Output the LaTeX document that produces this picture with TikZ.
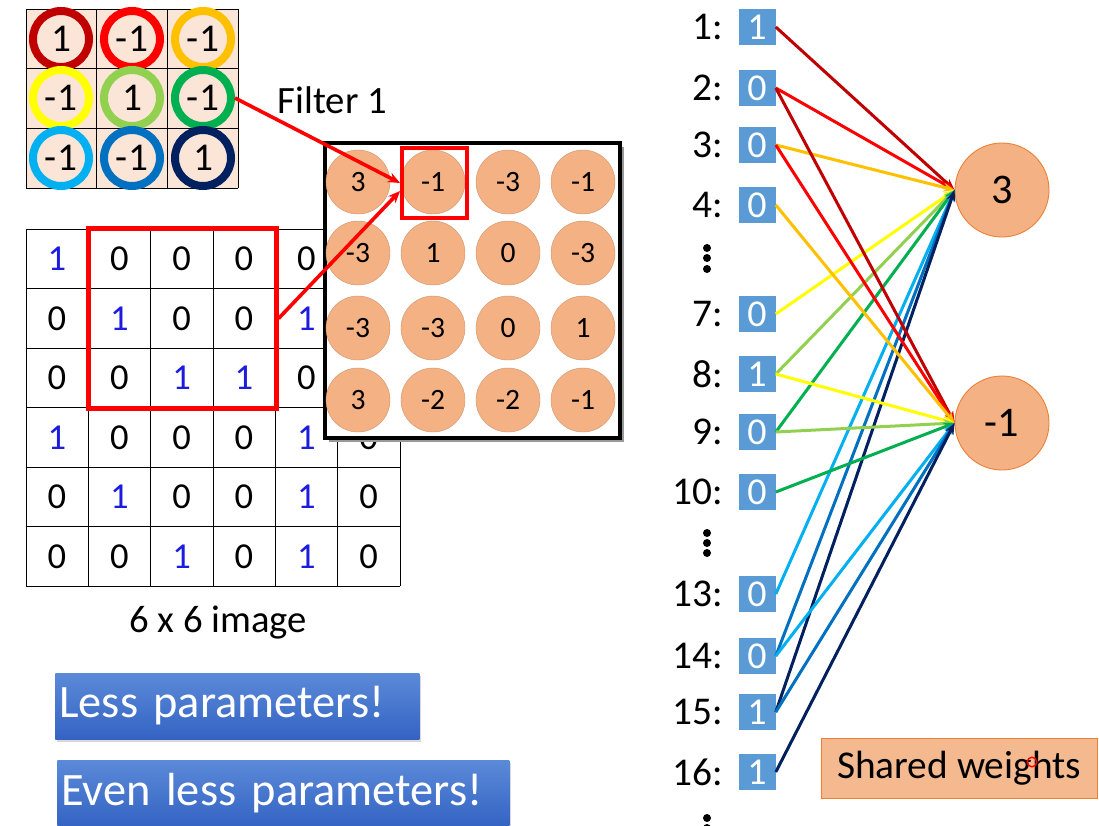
\documentclass[tikz,border=0pt]{standalone}
\usepackage{fontspec}
\setmainfont{Carlito}
\usetikzlibrary{positioning, arrows.meta, shadows}

\definecolor{wDarkRed}{HTML}{C00000}
\definecolor{wRed}{HTML}{FF0000}
\definecolor{wGold}{HTML}{FFC000}
\definecolor{wYellow}{HTML}{FFFF00}
\definecolor{wLightGreen}{HTML}{92D050}
\definecolor{wGreen}{HTML}{00B050}
\definecolor{wLightBlue}{HTML}{00B0F0}
\definecolor{wBlue}{HTML}{0070C0}
\definecolor{wNavy}{HTML}{002060}
\definecolor{peach}{HTML}{FBE5D6}
\definecolor{salmon}{HTML}{F4B183}
\definecolor{salmonLine}{HTML}{ED7D31}
\definecolor{inBlue}{HTML}{5B9BD5}
\definecolor{btnTop}{HTML}{5B8AD8}
\definecolor{btnBot}{HTML}{3463C4}
\definecolor{digBlue}{HTML}{1C1CE0}

\newcommand{\pxfont}[1]{\fontsize{#1}{#1}\selectfont}
\newcommand{\one}{\textcolor{digBlue}{1}}

\begin{document}
\begin{tikzpicture}[
      x=0.025cm, y=-0.025cm,
      ring/.style={circle, line width=0.2cm, fill=peach, minimum size=1.4cm,
      inner sep=0pt, font=\pxfont{28}},
      feat/.style={circle, fill=salmon, draw=salmon!85!black, line width=0.3pt,
      minimum size=1.6cm, inner sep=0pt, font=\pxfont{21}},
      pix/.style={font=\pxfont{26}},
      inp/.style={rectangle, fill=inBlue, text=white, minimum width=0.925cm,
      minimum height=0.9cm, inner sep=0pt, font=\pxfont{27}},
      lab/.style={font=\pxfont{28}, inner sep=1pt},
      outn/.style={circle, fill=salmon, draw=salmonLine, line width=0.6pt,
      minimum size=2.35cm, font=\pxfont{30}},
      edge/.style={line width=0.075cm, -{Stealth[length=0.28cm, width=0.22cm]}},
      btn/.style={rectangle, top color=btnTop, bottom color=btnBot, text=white,
      font=\pxfont{33}, align=left, inner xsep=0.1cm, minimum height=1.65cm,
      drop shadow={opacity=0.3, shadow xshift=0.04cm, shadow yshift=-0.08cm}}
    ]
    \useasboundingbox (0,0) rectangle (1099,825);
    \fill[white] (0,0) rectangle (1099,825);

    % Filter 1
    \fill[peach] (26,9) rectangle (238,188);
    \foreach \i in {0,...,3} {
      \draw[line width=0.6pt] (26+70.67*\i,9) -- (26+70.67*\i,188);
      \draw[line width=0.6pt] (26,9+59.67*\i) -- (238,9+59.67*\i);
    }
    \node[ring, draw=wDarkRed]    (f11) at (61,39)   {1};
    \node[ring, draw=wRed]        (f12) at (132,39)  {-1};
    \node[ring, draw=wGold]       (f13) at (203,39)  {-1};
    \node[ring, draw=wYellow]     (f21) at (61,98)   {-1};
    \node[ring, draw=wLightGreen] (f22) at (132,98)  {1};
    \node[ring, draw=wGreen]      (f23) at (203,98)  {-1};
    \node[ring, draw=wLightBlue]  (f31) at (61,158)  {-1};
    \node[ring, draw=wBlue]       (f32) at (132,158) {-1};
    \node[ring, draw=wNavy]       (f33) at (203,158) {1};
    \node[font=\pxfont{27.5}, anchor=west] (ftitle) at (273,100) {Filter 1};

    % 6 x 6 image (last column of rows 1-3 lies under the feature map)
    \foreach \i in {0,...,6} {
      \draw[line width=0.6pt] (26+62.33*\i,229) -- (26+62.33*\i,586);
      \draw[line width=0.6pt] (26,229+59.5*\i) -- (400,229+59.5*\i);
    }
    \foreach \row [count=\r from 0] in {{\one,0,0,0,0}, {0,\one,0,0,\one},
      {0,0,\one,\one,0}, {\one,0,0,0,\one,0}, {0,\one,0,0,\one,0},
      {0,0,\one,0,\one,0}} {
      \foreach \v [count=\c from 0] in \row
        \node[pix] at (57+62.33*\c,259+59.5*\r) {\v};
    }
    \node[draw=wRed, line width=0.125cm, minimum width=4.675cm,
      minimum height=4.475cm, inner sep=0pt] (win) at (182.5,318.5) {};
    \node[font=\pxfont{27.5}] (imgtitle) at (218,623) {6 x 6 image};

    % Feature map
    \fill[black!40] (329,147) rectangle (624,442);
    \draw[fill=white, line width=0.1cm] (325,143) rectangle (620,438);
    \node[feat] (m11) at (358,182) {3};
    \node[feat] (m12) at (433,182) {-1};
    \node[feat] (m13) at (508,182) {-3};
    \node[feat] (m14) at (583,182) {-1};
    \node[feat] (m21) at (358,253) {-3};
    \node[feat] (m22) at (433,253) {1};
    \node[feat] (m23) at (508,253) {0};
    \node[feat] (m24) at (583,253) {-3};
    \node[feat] (m31) at (358,328) {-3};
    \node[feat] (m32) at (433,328) {-3};
    \node[feat] (m33) at (508,328) {0};
    \node[feat] (m34) at (583,328) {1};
    \node[feat] (m41) at (358,400) {3};
    \node[feat] (m42) at (433,400) {-2};
    \node[feat] (m43) at (508,400) {-2};
    \node[feat] (m44) at (583,400) {-1};
    \node[draw=wRed, line width=0.1cm, minimum width=1.62cm,
      minimum height=1.75cm, inner sep=0pt] (sel) at (434.5,183) {};

    \draw[wRed, line width=0.09cm, -{Stealth[length=0.3cm, width=0.25cm]}]
    (f23.east) -- (sel.west);
    \draw[wRed, line width=0.09cm, -{Stealth[length=0.3cm, width=0.25cm]}]
    (win.east) -- ([yshift=-0.2cm]sel.west);

    % Buttons
    \node[btn, text width=8.9cm, anchor=west] (less) at (55,706)
    {Less parameters!};
    \node[btn, text width=11.1cm, anchor=west] (evenless) at (57,793)
    {Even less parameters!};

    % Inputs
    \node[inp] (x1)  at (757,27)  {1};
    \node[inp] (x2)  at (757,88)  {0};
    \node[inp] (x3)  at (757,145) {0};
    \node[inp] (x4)  at (757,205) {0};
    \node[inp] (x7)  at (757,314) {0};
    \node[inp] (x8)  at (757,374) {1};
    \node[inp] (x9)  at (757,432) {0};
    \node[inp] (x10) at (757,492) {0};
    \node[inp] (x13) at (757,594) {0};
    \node[inp] (x14) at (757,656) {0};
    \node[inp] (x15) at (757,712) {1};
    \node[inp] (x16) at (757,772) {1};
    \foreach \k in {1,2,3,4,7,8,9,10,13,14,15,16}
      \node[lab, left=0.35cm of x\k] (l\k) {\k:};

    % vertical dots
    \foreach \yy in {248,258,269,533,543,553,818,828,839}
      \fill (707,\yy) circle[radius=0.1cm];

    % Outputs
    \node[outn] (o1) at (1002,190) {3};
    \node[outn] (o2) at (1002,423) {-1};

    % Shared weights
    \foreach \a/\col in {1/wDarkRed, 2/wRed, 3/wGold, 7/wYellow, 8/wLightGreen,
      9/wGreen, 13/wLightBlue, 14/wBlue, 15/wNavy}
      \draw[edge, \col] (x\a.east) -- (o1.west);
    \foreach \a/\col in {2/wDarkRed, 3/wRed, 4/wGold, 8/wYellow, 9/wLightGreen,
      10/wGreen, 14/wLightBlue, 15/wBlue, 16/wNavy}
      \draw[edge, \col] (x\a.east) -- (o2.west);

    \node[rectangle, fill=salmon!90!white, draw=salmonLine, line width=0.6pt,
      minimum width=6.9cm, minimum height=1.5cm, font=\pxfont{28}]
    (shared) at (959,768) {Shared weights};
    \draw[wRed, line width=1pt] (1032,762) circle[radius=0.12cm];

  \end{tikzpicture}
\end{document}
